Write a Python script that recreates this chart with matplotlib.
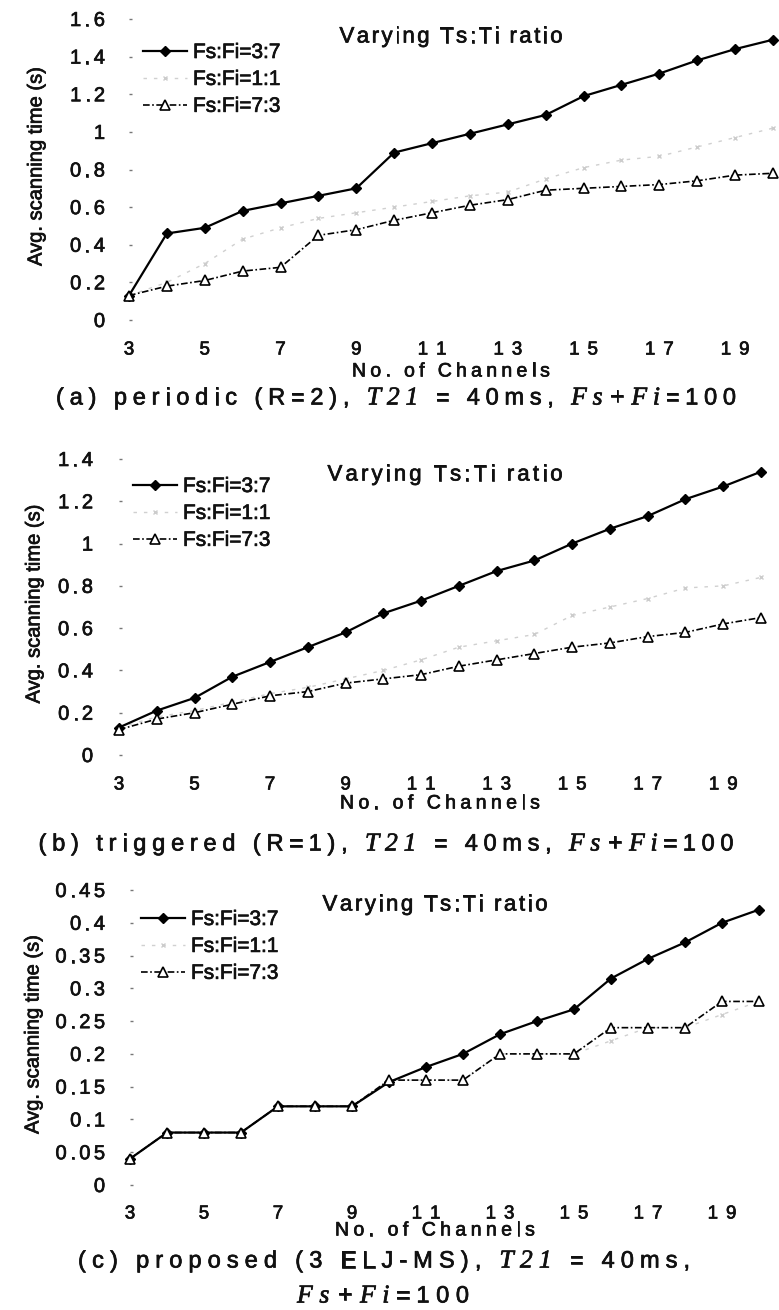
import matplotlib
matplotlib.use("Agg")
import matplotlib.pyplot as plt
import matplotlib.patheffects as pe
from matplotlib.font_manager import FontProperties

plt.rcParams['font.family'] = ['Liberation Sans', 'DejaVu Sans']

channels = list(range(3, 21))
xticks = [3, 5, 7, 9, 11, 13, 15, 17, 19]
labels = ["Fs:Fi=3:7", "Fs:Fi=1:1", "Fs:Fi=7:3"]

# (a) periodic
a_37 = [0.13, 0.46, 0.49, 0.58, 0.62, 0.66, 0.70, 0.89, 0.94, 0.99, 1.04, 1.09, 1.19, 1.25, 1.31, 1.38, 1.44, 1.49]
a_11 = [0.13, 0.20, 0.30, 0.43, 0.49, 0.54, 0.57, 0.60, 0.63, 0.66, 0.68, 0.75, 0.81, 0.85, 0.87, 0.92, 0.97, 1.02]
a_73 = [0.13, 0.18, 0.21, 0.26, 0.28, 0.45, 0.48, 0.53, 0.57, 0.61, 0.64, 0.69, 0.70, 0.71, 0.72, 0.74, 0.77, 0.78]
a_yticks = [0, 0.2, 0.4, 0.6, 0.8, 1, 1.2, 1.4, 1.6]

# (b) triggered
b_37 = [0.13, 0.21, 0.27, 0.37, 0.44, 0.51, 0.58, 0.67, 0.73, 0.80, 0.87, 0.92, 1.00, 1.07, 1.13, 1.21, 1.27, 1.34]
b_11 = [0.13, 0.18, 0.21, 0.25, 0.29, 0.32, 0.36, 0.40, 0.45, 0.51, 0.54, 0.57, 0.66, 0.70, 0.74, 0.79, 0.80, 0.84]
b_73 = [0.12, 0.17, 0.20, 0.24, 0.28, 0.30, 0.34, 0.36, 0.38, 0.42, 0.45, 0.48, 0.51, 0.53, 0.56, 0.58, 0.62, 0.65]
b_yticks = [0, 0.2, 0.4, 0.6, 0.8, 1, 1.2, 1.4]

# (c) proposed
c_37 = [0.04, 0.08, 0.08, 0.08, 0.12, 0.12, 0.12, 0.157, 0.18, 0.20, 0.23, 0.25, 0.268, 0.315, 0.345, 0.37, 0.40, 0.42]
c_11 = [0.04, 0.08, 0.08, 0.08, 0.12, 0.12, 0.12, 0.16, 0.16, 0.16, 0.20, 0.20, 0.20, 0.22, 0.24, 0.24, 0.26, 0.28]
c_73 = [0.04, 0.08, 0.08, 0.08, 0.12, 0.12, 0.12, 0.16, 0.16, 0.16, 0.20, 0.20, 0.20, 0.24, 0.24, 0.24, 0.28, 0.28]
c_yticks = [0, 0.05, 0.1, 0.15, 0.2, 0.25, 0.3, 0.35, 0.4, 0.45]

W, H = 779, 1310
fig = plt.figure(figsize=(W / 100, H / 100), dpi=100)
renderer = fig.canvas.get_renderer()
INK = '#111111'
THICK = [pe.withStroke(linewidth=0.5, foreground=INK)]


def sans(size):
    return FontProperties(family='Liberation Sans', size=size)


def serif_it(size):
    return FontProperties(family='Liberation Serif', style='italic', size=size)


def ink_w(ch, fp):
    if ch == ' ':
        return fp.get_size_in_points() * 100 / 72 * 0.25
    w, h, d = renderer.get_text_width_height_descent(ch, fp, ismath=False)
    return w


def tracked(x, yc, segments, target_w=None, track=0.0, ha='center'):
    """Draw text with letter spacing; x/yc in pixels from top-left."""
    chars = [(ch, fp) for txt, fp in segments for ch in txt]
    widths = [ink_w(ch, fp) for ch, fp in chars]
    n = len(chars)
    if target_w is not None and n > 1:
        track = (target_w - sum(widths)) / (n - 1)
    total = sum(widths) + track * (n - 1)
    if ha == 'center':
        x0 = x - total / 2
    elif ha == 'right':
        x0 = x - total
    else:
        x0 = x
    fp0 = segments[0][1]
    _, cap, _ = renderer.get_text_width_height_descent('H', fp0, ismath=False)
    base = yc + cap / 2
    for (ch, fp), w in zip(chars, widths):
        if ch != ' ':
            fig.text(x0 / W, 1 - base / H, ch, fontproperties=fp,
                     ha='left', va='baseline', color=INK, path_effects=THICK)
        x0 += w + track


def fmt(v):
    return ("%.2f" % v).rstrip('0').rstrip('.')


def panel(px_left, px_right, px_bottom, px_top, s37, s11, s73, yticks, ymax,
          xtick_y, ytick_right, ylabel_x, leg_xy, title, xlabel, captions):
    ax = fig.add_axes([px_left / W, 1 - px_bottom / H,
                       (px_right - px_left) / W, (px_bottom - px_top) / H])
    ax.plot(channels, s37, color='black', lw=1.6, marker='D', ms=5.5,
            mfc='black', mec='black', clip_on=False, label=labels[0], zorder=3)
    ax.plot(channels, s11, color='#d0d0d0', lw=1.0, ls=(0, (2.5, 5)), marker='x',
            ms=3.5, mec='#cccccc', clip_on=False, label=labels[1], zorder=2)
    ax.plot(channels, s73, color='black', lw=1.2, ls=(0, (4, 1.5, 1, 1.5)), marker='^',
            ms=7, mfc='white', mec='black', mew=1.2, clip_on=False,
            label=labels[2], zorder=4)
    ax.set_xlim(3, 20)
    ax.set_ylim(0, ymax)
    for sp in ax.spines.values():
        sp.set_visible(False)
    ax.set_xticks(xticks)
    ax.set_yticks(yticks)
    ax.set_xticklabels([])
    ax.set_yticklabels([])
    ax.tick_params(axis='x', length=0)
    ax.tick_params(axis='y', length=2, width=1, color='#777777', direction='in')
    ax.set_facecolor('none')

    # tick labels with the wide letter spacing of the original
    for t in xticks:
        dx, _ = ax.transData.transform((t, 0))
        tracked(dx, xtick_y, [(str(t), sans(13.5))], track=8)
    for v in yticks:
        _, dy = ax.transData.transform((3, v))
        tracked(ytick_right, H - dy, [(fmt(v), sans(14.5))], track=3.5, ha='right')

    fig.text(ylabel_x / W, 1 - ((px_top + px_bottom) / 2 - 3) / H,
             "Avg. scanning time (s)", rotation=90, ha='center', va='center',
             fontsize=14.5, color=INK, path_effects=THICK)

    leg = ax.legend(loc='upper left', bbox_to_anchor=(leg_xy[0] / W, 1 - leg_xy[1] / H),
                    bbox_transform=fig.transFigure, frameon=False, fontsize=15,
                    handlelength=2.1, handletextpad=0.3, labelspacing=0.38,
                    borderpad=0, borderaxespad=0)
    for t in leg.get_texts():
        t.set_color(INK)
        t.set_path_effects(THICK)

    tracked(title[0], title[1], [("Varying Ts:Ti ratio", sans(16))], target_w=title[2])
    tracked(xlabel[0], xlabel[1], [("No. of Channels", sans(14))], target_w=xlabel[2])
    for cx, cy, cw, segs in captions:
        tracked(cx, cy, segs, target_w=cw)
    return ax


S, I = sans(17), serif_it(18.5)

panel(129, 773, 320, 19, a_37, a_11, a_73, a_yticks, 1.6,
      xtick_y=348, ytick_right=105, ylabel_x=36, leg_xy=(143, 43),
      title=(451, 35, 223), xlabel=(451, 370, 198),
      captions=[(396, 396, 680, [("(a) periodic (R=2), ", S), ("T21", I), (" = 40ms, ", S),
                                 ("Fs+Fi", I), ("=100", S)])])

panel(119, 761, 755, 459, b_37, b_11, b_73, b_yticks, 1.4,
      xtick_y=783, ytick_right=93, ylabel_x=34, leg_xy=(133, 477),
      title=(445, 473, 235), xlabel=(440, 802, 200),
      captions=[(386, 842, 695, [("(b) triggered (R=1), ", S), ("T21", I), (" = 40ms, ", S),
                                 ("Fs+Fi", I), ("=100", S)])])

panel(130, 759, 1185, 890, c_37, c_11, c_73, c_yticks, 0.45,
      xtick_y=1212, ytick_right=105, ylabel_x=33, leg_xy=(141, 910),
      title=(435, 903, 225), xlabel=(435, 1229, 200),
      captions=[(384, 1259, 612, [("(c) proposed (3 ELJ-MS), ", S), ("T21", I),
                                  (" = 40ms,", S)]),
                (383, 1294, 172, [("Fs+Fi", I), ("=100", S)])])

fig.savefig("out.png", dpi=100)
